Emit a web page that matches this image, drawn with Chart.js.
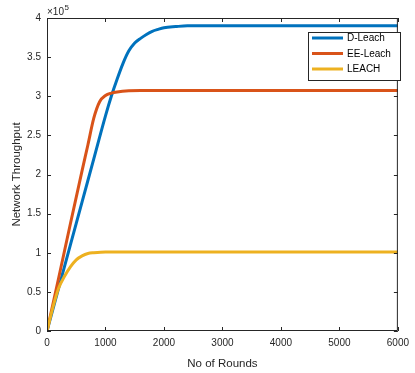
<!DOCTYPE html>
<html>
<head>
<meta charset="utf-8">
<script src="https://cdn.jsdelivr.net/npm/chart.js@4.4.0/dist/chart.umd.min.js"></script>
<style>
  html, body { margin: 0; padding: 0; background: #fff; }
  #wrap { width: 415px; height: 373px; }
</style>
</head>
<body>
<div id="wrap"><canvas id="myChart" width="415" height="373"></canvas></div>
<script>
// Données (débit en unités réelles, x10^5 sur l'axe)
var roundsD = [0, 200, 400, 600, 800, 1000, 1100, 1200, 1300, 1400, 1500, 1600, 1700, 1800, 1900, 2000, 2200, 2400, 6000];
var throughputD = [0, 55000, 110000, 165000, 220000, 275000, 300000, 322000, 342000, 358000, 368000, 374000, 379000, 383000, 385500, 387500, 389000, 390000, 390000];

var roundsEE = [0, 200, 400, 600, 700, 800, 900, 1000, 1100, 1200, 1400, 1600, 6000];
var throughputEE = [0, 68000, 137000, 205000, 238000, 272000, 293000, 301000, 304000, 305500, 307000, 307500, 307500];

var roundsL = [0, 100, 200, 300, 400, 500, 600, 700, 800, 1000, 6000];
var throughputL = [0, 30000, 55000, 70000, 82000, 91000, 96000, 99000, 100000, 101000, 101000];

var seriesNames = ['D-Leach', 'EE-Leach', 'LEACH'];
var seriesColors = ['#0072BD', '#D95319', '#EDB120'];

var xTicks = [0, 1000, 2000, 3000, 4000, 5000, 6000];
var yTicks = [0, 50000, 100000, 150000, 200000, 250000, 300000, 350000, 400000];

function toPoints(xs, ys) {
  return xs.map(function(x, i) { return { x: x, y: ys[i] }; });
}

var fontFam = '"Liberation Sans", Arial, Helvetica, sans-serif';
var txtColor = '#262626';

// Cadre, graduations vers l'intérieur, légende et facteur x10^5
var boxPlugin = {
  id: 'boxPlugin',
  afterDraw: function(chart) {
    var ctx = chart.ctx;
    var a = chart.chartArea;
    var xs = chart.scales.x, ys = chart.scales.y;
    ctx.save();
    ctx.strokeStyle = txtColor;
    ctx.lineWidth = 1;
    ctx.beginPath();
    ctx.rect(a.left + 0.5, a.top + 0.5, a.right - a.left - 1, a.bottom - a.top - 1);
    ctx.stroke();
    var tl = 4;
    ctx.beginPath();
    xTicks.forEach(function(v) {
      var px = Math.round(xs.getPixelForValue(v)) + 0.5;
      ctx.moveTo(px, a.bottom); ctx.lineTo(px, a.bottom - tl);
      ctx.moveTo(px, a.top); ctx.lineTo(px, a.top + tl);
    });
    yTicks.forEach(function(v) {
      var py = Math.round(ys.getPixelForValue(v)) + 0.5;
      ctx.moveTo(a.left, py); ctx.lineTo(a.left + tl, py);
      ctx.moveTo(a.right, py); ctx.lineTo(a.right - tl, py);
    });
    ctx.stroke();

    // facteur d'échelle
    ctx.fillStyle = txtColor;
    ctx.textBaseline = 'alphabetic';
    ctx.textAlign = 'left';
    ctx.font = '10px ' + fontFam;
    ctx.fillText('\u00d710', a.left, a.top - 3);
    var w = ctx.measureText('\u00d710').width;
    ctx.font = '8px ' + fontFam;
    ctx.fillText('5', a.left + w + 0.5, a.top - 8);

    // légende (dans l'ordre des séries)
    var lx = 308, ly = 32, lw = 92, lh = 48;
    ctx.fillStyle = '#ffffff';
    ctx.fillRect(lx, ly, lw, lh);
    ctx.strokeStyle = txtColor;
    ctx.strokeRect(lx + 0.5, ly + 0.5, lw, lh);
    ctx.font = '10px ' + fontFam;
    ctx.textBaseline = 'middle';
    seriesNames.forEach(function(name, i) {
      var yy = ly + 6 + i * 15.5;
      ctx.strokeStyle = seriesColors[i];
      ctx.lineWidth = 3;
      ctx.beginPath();
      ctx.moveTo(lx + 4, yy); ctx.lineTo(lx + 35, yy);
      ctx.stroke();
      ctx.fillStyle = '#000';
      ctx.fillText(name, lx + 39, yy + 0.5);
    });
    ctx.restore();
  }
};

var ctx = document.getElementById('myChart').getContext('2d');
var myChart = new Chart(ctx, {
  type: 'line',
  data: {
    datasets: [
      { label: seriesNames[0], data: toPoints(roundsD, throughputD) },
      { label: seriesNames[1], data: toPoints(roundsEE, throughputEE) },
      { label: seriesNames[2], data: toPoints(roundsL, throughputL) }
    ].map(function(ds, i) {
      ds.borderColor = seriesColors[i];
      ds.backgroundColor = seriesColors[i];
      ds.borderWidth = 3;
      ds.pointRadius = 0;
      ds.fill = false;
      ds.cubicInterpolationMode = 'monotone';
      return ds;
    }).reverse()   // la dernière série (LEACH) dessinée au-dessus, comme MATLAB
  },
  options: {
    responsive: false,
    animation: false,
    layout: { padding: { top: 18, right: 13, left: 0, bottom: 0 } },
    plugins: {
      legend: { display: false },
      tooltip: { enabled: false }
    },
    scales: {
      x: {
        type: 'linear',
        min: 0, max: 6000,
        afterFit: function(s) { s.height = 42; },
        afterBuildTicks: function(s) { s.ticks = xTicks.map(function(v) { return { value: v }; }); },
        grid: { display: false, drawTicks: false },
        border: { display: false },
        ticks: {
          color: txtColor, font: { family: fontFam, size: 10 }, padding: 6, maxRotation: 0,
          callback: function(value) { return String(value); }
        },
        title: { display: true, text: 'No of Rounds', color: txtColor, font: { family: fontFam, size: 11.5 }, padding: { top: 0, bottom: 2 } }
      },
      y: {
        type: 'linear',
        min: 0, max: 400000,
        afterFit: function(s) { s.width = 47; },
        afterBuildTicks: function(s) { s.ticks = yTicks.map(function(v) { return { value: v }; }); },
        grid: { display: false, drawTicks: false },
        border: { display: false },
        ticks: {
          color: txtColor, font: { family: fontFam, size: 10 }, padding: 6,
          callback: function(value) { return String(value / 100000); }
        },
        title: { display: true, text: 'Network Throughput', color: txtColor, font: { family: fontFam, size: 11.5 }, padding: { top: 10, bottom: 0 } }
      }
    }
  },
  plugins: [boxPlugin]
});
</script>
</body>
</html>
